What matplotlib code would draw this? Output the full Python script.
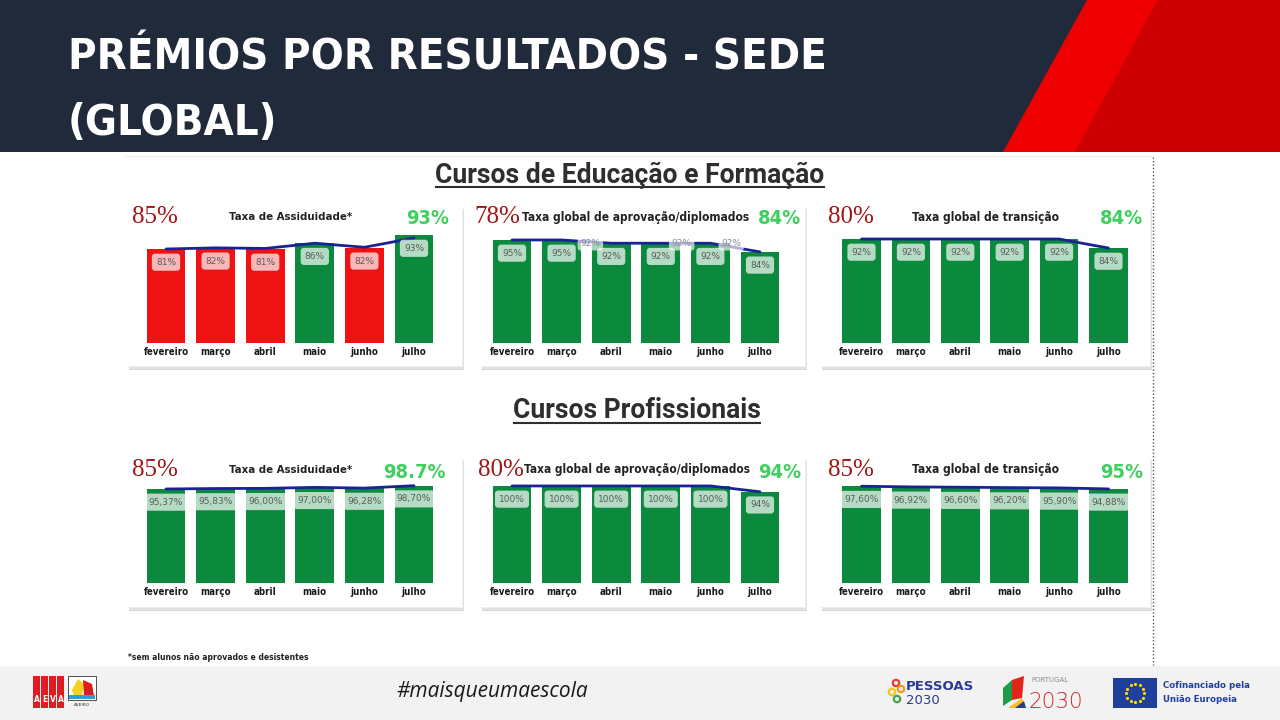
import numpy as np
import matplotlib
matplotlib.use("Agg")
import matplotlib.pyplot as plt
from matplotlib.patches import Rectangle, Polygon, Circle

W, H = 1280, 720

months = ["fevereiro", "março", "abril", "maio", "junho", "julho"]

# Cursos de Educação e Formação
cef_titles = ["Taxa de Assiduidade*", "Taxa global de aprovação/diplomados", "Taxa global de transição"]
cef_targets = [85, 78, 80]
cef_latest = ["93%", "84%", "84%"]
cef_assiduidade = [81, 82, 81, 86, 82, 93]
cef_assiduidade_line = [81, 82, 81.5, 86, 82.5, 90.5]
cef_aprovacao = [95, 95, 92, 92, 92, 84]
cef_aprovacao_line_labels = [2, 3, 4]
cef_transicao = [92, 92, 92, 92, 92, 84]

# Cursos Profissionais
prof_titles = ["Taxa de Assiduidade*", "Taxa global de aprovação/diplomados", "Taxa global de transição"]
prof_targets = [85, 80, 85]
prof_latest = ["98.7%", "94%", "95%"]
prof_assiduidade = [95.37, 95.83, 96.00, 97.00, 96.28, 98.70]
prof_aprovacao = [100, 100, 100, 100, 100, 94]
prof_transicao = [97.60, 96.92, 96.60, 96.20, 95.90, 94.88]

GREEN = "#0b8a3e"
RED = "#ee1212"
LINE = "#1a2394"
TARGET_RED = "#a31414"
LATEST_GREEN = "#3ecf5e"
COND = dict(family="DejaVu Sans", stretch="condensed")

fig = plt.figure(figsize=(W / 100, H / 100), dpi=100)
bg = fig.add_axes([0, 0, 1, 1])
bg.set_xlim(0, W)
bg.set_ylim(H, 0)
bg.axis("off")
renderer = fig.canvas.get_renderer()


def fit(t, width):
    # shrink/grow a text so that it spans the given pixel width
    bb = t.get_window_extent(renderer)
    t.set_fontsize(t.get_fontsize() * width / bb.width)
    return t


def px_axes(x0, y0, x1, y1):
    ax = fig.add_axes([x0 / W, 1 - y1 / H, (x1 - x0) / W, (y1 - y0) / H])
    ax.patch.set_alpha(0)
    return ax


def pct(v, decimals):
    if decimals == 0:
        return f"{v:.0f}%"
    return f"{v:.{decimals}f}%".replace(".", ",")


def card(x0, y0, x1, y1):
    for k, c in [(4, "#d6d6d6"), (2.5, "#e2e2e2"), (1.2, "#eeeeee")]:
        bg.add_patch(Rectangle((x0 + k * 0.6, y0 + k), x1 - x0, y1 - y0, color=c, lw=0, zorder=1))
    bg.add_patch(Rectangle((x0, y0), x1 - x0, y1 - y0, color="white", lw=0, zorder=1.5))


def panel(layout, title, target, latest, values, line=None, line_labels=()):
    (cx0, cy0, cx1, cy1), (ax0, ax1, base, top, ymax), (tx, mx, lx, ty, tw) = layout
    card(cx0, cy0, cx1, cy1)
    bg.text(tx, ty, f"{target}%", color=TARGET_RED, fontsize=18, family="Liberation Serif",
            ha="left", va="center", zorder=3)
    t = bg.text(mx, ty, title, color="#222222", fontsize=10, weight="bold",
                ha="center", va="center", zorder=3, **COND)
    fit(t, tw)
    lt = bg.text(lx, ty + 2, latest, color=LATEST_GREEN, fontsize=16, weight="bold",
                 ha="right", va="center", zorder=3, **COND)
    lt.set_fontsize(latest_size)

    ax = px_axes(ax0, top, ax1, base)
    x = np.arange(len(months))
    vals = np.array(values, dtype=float)
    decimals = 0 if np.all(vals == np.round(vals)) else 2
    colors = [GREEN if v >= target else RED for v in vals]
    ax.bar(x, vals, width=0.78, color=colors, zorder=2)
    line_vals = vals if line is None else np.array(line)
    ax.plot(x, line_vals, color=LINE, lw=2, zorder=3, solid_capstyle="round")
    for i, v in enumerate(vals):
        ax.annotate(pct(v, decimals), (i, v), xytext=(0, -9.5), textcoords="offset points",
                    ha="center", va="center", fontsize=6.5, color="#5c5c5c", zorder=5,
                    bbox=dict(boxstyle="round,pad=0.45,rounding_size=0.35", fc="white", ec="none", alpha=0.7))
    for i, dx in zip(line_labels, (-15, 15, 15)):
        ax.annotate(pct(line_vals[i], decimals), (i, line_vals[i]), xytext=(dx, 0),
                    textcoords="offset points", ha="center", va="center", fontsize=6.5,
                    color="#8c8c9c", zorder=4,
                    bbox=dict(boxstyle="round,pad=0.3", fc="white", ec="none", alpha=0.65))
    ax.set_xlim(-0.5, len(months) - 0.5)
    ax.set_ylim(0, ymax)
    ax.set_xticks(x)
    ax.set_xticklabels(months, fontsize=7, weight="bold", color="#1a1a1a", **COND)
    ax.tick_params(length=0, pad=3)
    ax.set_yticks([])
    for s in ax.spines.values():
        s.set_visible(False)
    return ax


# header
bg.add_patch(Rectangle((0, 0), W, 152, color="#202a3a", lw=0))
bg.add_patch(Polygon([(1003, 152), (1087, 0), (W, 0), (W, 152)], color="#ee0000", lw=0))
bg.add_patch(Polygon([(1075, 152), (1158, 0), (W, 0), (W, 152)], color="#cc0000", lw=0))
h1 = bg.text(68, 70, "PRÉMIOS POR RESULTADOS - SEDE", color="white", fontsize=40, weight="heavy",
             va="baseline", ha="left", **COND)
fit(h1, 757)
bg.text(68, 135, "(GLOBAL)", color="white", fontsize=h1.get_fontsize(), weight="heavy",
        va="baseline", ha="left", **COND)

# footer
bg.add_patch(Rectangle((0, 666), W, 54, color="#f2f2f2", lw=0))
bg.plot([1153, 1153], [157, 665], color="#555555", lw=1, ls=(0, (1, 1.5)))
bg.plot([125, 1150], [156, 156], color="#ececec", lw=1)

# section titles
sec1 = bg.text(630, 175, "Cursos de Educação e Formação", fontsize=17, color="#2e2e2e",
               family="Roboto", weight="bold", ha="center", va="center")
fit(sec1, 390)
sec2 = bg.text(637, 411, "Cursos Profissionais", fontsize=sec1.get_fontsize(), color="#2e2e2e",
               family="Roboto", weight="bold", ha="center", va="center")

probe = bg.text(0, 0, cef_latest[0], fontsize=16, weight="bold", **COND)
latest_size = fit(probe, 43).get_fontsize()
probe.remove()

top_layouts = [
    ((127, 206, 462, 366), (141.2, 438.8, 343, 225, 101.7), (132, 291, 449, 217, 122)),
    ((480, 206, 805, 366), (487.2, 784.8, 343, 225, 108.8), (474, 636, 801, 217, 226)),
    ((820, 206, 1150, 366), (836.8, 1133.2, 343, 225, 104.4), (828, 985, 1143, 217, 145)),
]
bottom_layouts = [
    ((127, 458, 462, 607), (141.2, 438.8, 583, 465, 119.7), (132, 291, 446, 470, 122)),
    ((480, 458, 805, 607), (487.2, 784.8, 583, 465, 121.6), (478, 637, 801, 470, 222)),
    ((820, 458, 1150, 607), (836.8, 1133.2, 583, 465, 119.0), (828, 985, 1143, 470, 145)),
]

panel(top_layouts[0], cef_titles[0], cef_targets[0], cef_latest[0], cef_assiduidade, cef_assiduidade_line)
panel(top_layouts[1], cef_titles[1], cef_targets[1], cef_latest[1], cef_aprovacao,
      line_labels=cef_aprovacao_line_labels)
panel(top_layouts[2], cef_titles[2], cef_targets[2], cef_latest[2], cef_transicao)
panel(bottom_layouts[0], prof_titles[0], prof_targets[0], prof_latest[0], prof_assiduidade)
panel(bottom_layouts[1], prof_titles[1], prof_targets[1], prof_latest[1], prof_aprovacao)
panel(bottom_layouts[2], prof_titles[2], prof_targets[2], prof_latest[2], prof_transicao)

fn = bg.text(128, 658, "*sem alunos não aprovados e desistentes", fontsize=6.5,
             weight="bold", color="#222222", va="center", **COND)
fit(fn, 179)
bg.text(492, 691, "#maisqueumaescola", fontsize=15, family="Open Sans", style="italic",
        color="#1a1a1a", ha="center", va="center")

# AEVA logo
for i, letter in enumerate("AEVA"):
    bg.add_patch(Rectangle((33 + i * 8, 676), 7.2, 32, color="#e11b22", lw=0))
    bg.text(36.6 + i * 8, 700, letter, color="white", fontsize=5.5, weight="bold", ha="center", va="center")
bg.add_patch(Rectangle((68, 676), 28, 24, fc="white", ec="#333333", lw=0.6))
bg.add_patch(Polygon([(72, 690), (78, 679), (84, 684), (82, 696), (74, 696)], color="#f5d31a", lw=0))
bg.add_patch(Polygon([(83, 680), (92, 684), (94, 696), (84, 696)], color="#e11b22", lw=0))
bg.add_patch(Rectangle((69, 695), 26, 4, color="#2aa0d8", lw=0))
bg.text(82, 705, "AVEIRO", fontsize=3.2, color="#333333", ha="center", va="center")

# PESSOAS 2030
for (cx, cy), c in zip([(896, 683), (901, 689), (892, 692), (897, 699)],
                       ["#e63c2f", "#f39a1f", "#f6c21c", "#43a547"]):
    bg.add_patch(Circle((cx, cy), 3.2, fc="none", ec=c, lw=1.6))
bg.text(906, 687, "PESSOAS", fontsize=9.5, weight="bold", color="#2c3b8f", va="center")
bg.text(906, 700, "2030", fontsize=9.5, color="#2c3b8f", va="center")

# PORTUGAL 2030
bg.add_patch(Polygon([(1003, 706), (1003, 688), (1012, 680), (1012, 700)], color="#1f9a46", lw=0))
bg.add_patch(Polygon([(1012, 700), (1012, 680), (1024, 676), (1022, 698)], color="#e2231a", lw=0))
bg.add_patch(Polygon([(1008, 708), (1022, 698), (1026, 708)], color="#f7c21b", lw=0))
bg.add_patch(Polygon([(1015, 708), (1024, 701), (1026, 708)], color="#2c3b8f", lw=0))
bg.text(1031, 679.5, "PORTUGAL", fontsize=5, color="#8c8c8c", va="center")
pt = bg.text(1028, 708, "2030", fontsize=19, color="#d22630", family="DejaVu Sans", weight="light",
             va="baseline")
fit(pt, 55)

# EU flag
bg.add_patch(Rectangle((1113, 678), 44, 30, color="#1f3f9c", lw=0))
ang = np.linspace(0, 2 * np.pi, 13)[:-1]
bg.scatter(1135 + 9 * np.cos(ang), 693 + 9 * np.sin(ang), s=2, marker="*", color="#ffdd00", zorder=5)
cf = bg.text(1163, 686, "Cofinanciado pela", fontsize=8, weight="bold", color="#1f3f9c", va="center")
fit(cf, 87)
bg.text(1163, 700, "União Europeia", fontsize=cf.get_fontsize(), weight="bold", color="#1f3f9c", va="center")

# underline section titles
fig.canvas.draw()
inv = bg.transData.inverted()
for t in (sec1, sec2):
    bb = t.get_window_extent()
    (x0, y0), (x1, _) = inv.transform([(bb.x0, bb.y0), (bb.x1, bb.y1)])
    bg.plot([x0 + 1, x1 - 1], [y0 - 2, y0 - 2], color="#2e2e2e", lw=1.5)

fig.savefig("out.png", dpi=100)
